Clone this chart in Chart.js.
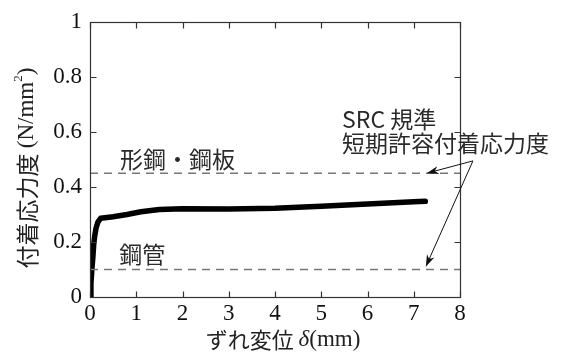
<!DOCTYPE html>
<html>
<head>
<meta charset="utf-8">
<script src="https://cdn.jsdelivr.net/npm/chart.js@4.4.0/dist/chart.umd.min.js"></script>
<style>
    html, body { margin: 0; padding: 0; background: #fff; }
    #wrap { width: 569px; height: 352px; }
</style>
</head>
<body>
<div id="wrap"><canvas id="bondChart" width="569" height="352"></canvas></div>
<script>
// ===== Data =====
const slipValues   = [0, 0.02, 0.04, 0.06, 0.08, 0.10, 0.13, 0.17, 0.23, 0.5, 0.8, 1.1, 1.5, 2.0, 3.0, 4.0, 5.0, 6.0, 7.0, 7.25];
const stressValues = [0, 0.05, 0.10, 0.14, 0.19, 0.22, 0.25, 0.272, 0.286, 0.292, 0.300, 0.310, 0.318, 0.321, 0.320, 0.323, 0.330, 0.338, 0.346, 0.348];

const limitSteel = 0.45;   // 形鋼・鋼板
const limitTube  = 0.10;   // 鋼管
const xRange = [0, 8];
const yRange = [0, 1];
const xTickStep = 1;
const yTickStep = 0.2;

const cjkFont = '"Noto Sans CJK JP", "Noto Sans", sans-serif';
const serifFont = '"Liberation Serif", "Times New Roman", serif';

const curveData = slipValues.map((x, i) => ({ x: x, y: stressValues[i] }));
const hLine = v => [{ x: xRange[0], y: v }, { x: xRange[1], y: v }];

// ===== Frame, inward ticks, titles and notes =====
const decorPlugin = {
    id: 'decor',
    afterDraw(chart) {
        const ctx = chart.ctx;
        const a = chart.chartArea;
        const xs = chart.scales.x;
        const ys = chart.scales.y;
        const L = Math.round(a.left) + 0.5, R = Math.round(a.right) + 0.5;
        const T = Math.round(a.top) + 0.5, B = Math.round(a.bottom) + 0.5;

        ctx.save();
        ctx.strokeStyle = '#333';
        ctx.lineWidth = 1.2;
        ctx.strokeRect(L, T, R - L, B - T);

        // inward ticks on all four sides
        ctx.beginPath();
        xs.ticks.forEach(t => {
            const px = Math.round(xs.getPixelForValue(t.value)) + 0.5;
            ctx.moveTo(px, B); ctx.lineTo(px, B - 6);
            ctx.moveTo(px, T); ctx.lineTo(px, T + 6);
        });
        ys.ticks.forEach(t => {
            const py = Math.round(ys.getPixelForValue(t.value)) + 0.5;
            ctx.moveTo(L, py); ctx.lineTo(L + 6, py);
            ctx.moveTo(R, py); ctx.lineTo(R - 6, py);
        });
        ctx.stroke();

        // y axis title (rotated)
        ctx.fillStyle = '#222';
        ctx.textBaseline = 'middle';
        const partsY = [
            { t: '付着応力度 ', f: '23px ' + cjkFont, dy: 0 },
            { t: '(N/mm', f: '23px ' + serifFont, dy: 0 },
            { t: '2', f: '13px ' + serifFont, dy: -8 },
            { t: ')', f: '23px ' + serifFont, dy: 0 }
        ];
        drawParts(ctx, partsY, 27, 168, -Math.PI / 2);

        // x axis title
        const partsX = [
            { t: 'ずれ変位 ', f: '22px ' + cjkFont, dy: 0 },
            { t: 'δ', f: 'italic 23px ' + serifFont, dy: 0 },
            { t: '(mm)', f: '23px ' + serifFont, dy: 0 }
        ];
        drawParts(ctx, partsX, 283, 340, 0);

        // notes
        ctx.textAlign = 'left';
        ctx.textBaseline = 'middle';
        ctx.font = '23px ' + cjkFont;
        ctx.fillStyle = '#2a2a2a';
        ctx.fillText('形鋼・鋼板', xs.getPixelForValue(0.65), ys.getPixelForValue(0.50));
        ctx.fillText('鋼管', xs.getPixelForValue(0.63), ys.getPixelForValue(0.155));
        ctx.fillText('SRC 規準', xs.getPixelForValue(5.45), ys.getPixelForValue(0.645));
        ctx.fillText('短期許容付着応力度', xs.getPixelForValue(5.45), ys.getPixelForValue(0.56));

        // arrows
        const sx = xs.getPixelForValue(8.28), sy = ys.getPixelForValue(0.495);
        drawArrow(ctx, sx, sy, xs.getPixelForValue(7.28), ys.getPixelForValue(limitSteel));
        drawArrow(ctx, sx, sy, xs.getPixelForValue(7.26), ys.getPixelForValue(limitTube + 0.01));
        ctx.restore();
    }
};

function drawParts(ctx, parts, cx, cy, angle) {
    let total = 0;
    parts.forEach(p => { ctx.font = p.f; p.w = ctx.measureText(p.t).width; total += p.w; });
    ctx.save();
    ctx.translate(cx, cy);
    ctx.rotate(angle);
    ctx.textAlign = 'left';
    let x = -total / 2;
    parts.forEach(p => {
        ctx.font = p.f;
        ctx.fillText(p.t, x, p.dy);
        x += p.w;
    });
    ctx.restore();
}

function drawArrow(ctx, x1, y1, x2, y2) {
    const ang = Math.atan2(y2 - y1, x2 - x1);
    const len = 12, half = 4;
    ctx.strokeStyle = '#111';
    ctx.fillStyle = '#111';
    ctx.lineWidth = 1;
    ctx.beginPath();
    ctx.moveTo(x1, y1);
    ctx.lineTo(x2 - Math.cos(ang) * len * 0.7, y2 - Math.sin(ang) * len * 0.7);
    ctx.stroke();
    ctx.beginPath();
    ctx.moveTo(x2, y2);
    ctx.lineTo(x2 - Math.cos(ang) * len - Math.sin(ang) * half, y2 - Math.sin(ang) * len + Math.cos(ang) * half);
    ctx.lineTo(x2 - Math.cos(ang) * len * 0.7, y2 - Math.sin(ang) * len * 0.7);
    ctx.lineTo(x2 - Math.cos(ang) * len + Math.sin(ang) * half, y2 - Math.sin(ang) * len - Math.cos(ang) * half);
    ctx.closePath();
    ctx.fill();
}

// ===== Chart =====
const ctx = document.getElementById('bondChart').getContext('2d');
new Chart(ctx, {
    type: 'scatter',
    data: {
        datasets: [
            {
                data: hLine(limitSteel),
                showLine: true,
                borderColor: '#777',
                borderWidth: 1.3,
                borderDash: [8, 6],
                pointRadius: 0
            },
            {
                data: hLine(limitTube),
                showLine: true,
                borderColor: '#777',
                borderWidth: 1.3,
                borderDash: [8, 6],
                pointRadius: 0
            },
            {
                data: curveData,
                showLine: true,
                borderColor: '#000',
                borderWidth: 5.5,
                borderCapStyle: 'round',
                borderJoinStyle: 'round',
                tension: 0,
                pointRadius: 0
            }
        ]
    },
    options: {
        responsive: false,
        devicePixelRatio: 1,
        animation: false,
        layout: { padding: { top: 22, right: 109, bottom: 0, left: 0 } },
        plugins: {
            legend: { display: false },
            tooltip: { enabled: false }
        },
        scales: {
            x: {
                type: 'linear',
                min: xRange[0],
                max: xRange[1],
                afterFit: s => { s.height = 55; },
                grid: { display: false, drawTicks: false },
                border: { display: false },
                ticks: {
                    stepSize: xTickStep,
                    padding: 3,
                    color: '#111',
                    maxRotation: 0,
                    font: { family: serifFont, size: 23 }
                }
            },
            y: {
                type: 'linear',
                min: yRange[0],
                max: yRange[1],
                afterFit: s => { s.width = 90; },
                grid: { display: false, drawTicks: false },
                border: { display: false },
                ticks: {
                    stepSize: yTickStep,
                    padding: 8,
                    color: '#111',
                    font: { family: serifFont, size: 23 },
                    callback: v => String(Math.round(v * 10) / 10)
                }
            }
        }
    },
    plugins: [decorPlugin]
});
</script>
</body>
</html>
